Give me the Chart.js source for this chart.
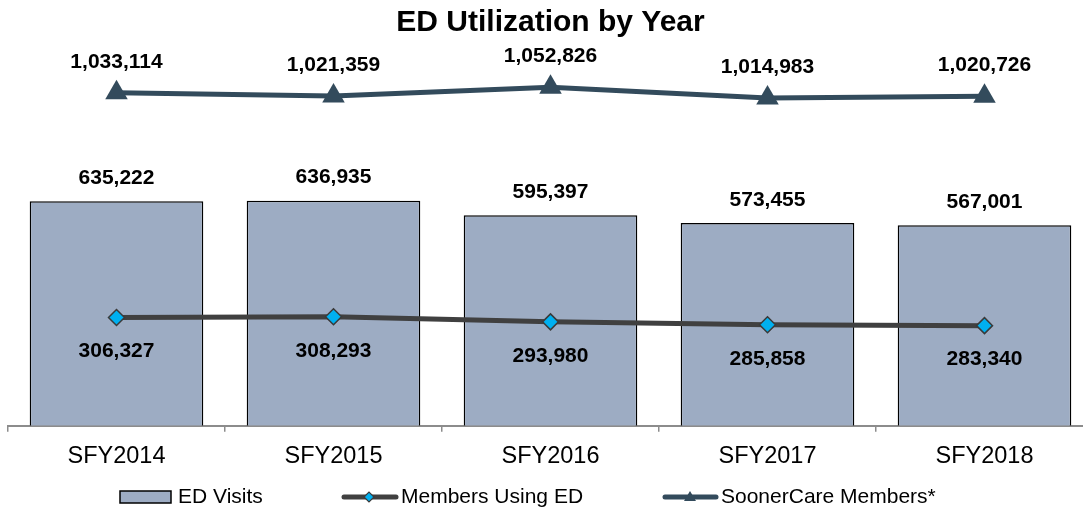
<!DOCTYPE html>
<html>
<head>
<meta charset="utf-8">
<script src="https://cdn.jsdelivr.net/npm/chart.js@4/dist/chart.umd.min.js"></script>
<style>
html,body{margin:0;padding:0;overflow:hidden;background:#fff;}
#wrap{width:1111px;height:510px;margin-left:-5px;}
</style>
</head>
<body>
<div id="wrap"><canvas id="ed"></canvas></div>
<script>
var years=['SFY2014','SFY2015','SFY2016','SFY2017','SFY2018'];
var edVisits=[635222,636935,595397,573455,567001];
var membersUsingEd=[306327,308293,293980,285858,283340];
var soonerCareMembers=[1033114,1021359,1052826,1014983,1020726];

var barFill='#9dacc3';
var memberLine='#404040';
var soonerLine='#334b5c';
var fontFam='"Liberation Sans", Arial, sans-serif';

// number labels next to every bar / point
var valueLabels={
  id:'valueLabels',
  afterDatasetsDraw(chart){
    let ctx=chart.ctx;
    ctx.save();
    ctx.font='bold 21px '+fontFam;
    ctx.fillStyle='#000';
    ctx.textAlign='center';
    ctx.textBaseline='middle';
    chart.data.datasets.forEach((ds,i)=>{
      let meta=chart.getDatasetMeta(i);
      meta.data.forEach((el,j)=>{
        ctx.fillText(ds.data[j].toLocaleString('en-US'), el.x, el.y+ds.labelShift);
      });
    });
    ctx.restore();
  }
};

// legend row at the bottom, drawn by hand (page x = canvas x - 5)
var legendRow={
  id:'legendRow',
  afterDraw(chart){
    let ctx=chart.ctx, y=497;
    ctx.save();
    ctx.translate(5,0);
    ctx.fillStyle=barFill; ctx.strokeStyle='#000'; ctx.lineWidth=1.5;
    ctx.fillRect(120,491,51,12); ctx.strokeRect(120,491,51,12);

    ctx.lineCap='round'; ctx.lineWidth=5;
    ctx.strokeStyle=memberLine;
    ctx.beginPath(); ctx.moveTo(344,y); ctx.lineTo(396,y); ctx.stroke();
    ctx.fillStyle='#00b0f0'; ctx.lineWidth=1.2; ctx.strokeStyle='#3a3a3a';
    ctx.beginPath(); ctx.moveTo(364,y); ctx.lineTo(369,y-5); ctx.lineTo(374,y); ctx.lineTo(369,y+5); ctx.closePath();
    ctx.fill(); ctx.stroke();

    ctx.lineWidth=5; ctx.strokeStyle=soonerLine;
    ctx.beginPath(); ctx.moveTo(665,y); ctx.lineTo(716,y); ctx.stroke();
    ctx.fillStyle=soonerLine;
    ctx.beginPath(); ctx.moveTo(684,y+4); ctx.lineTo(690,y-6); ctx.lineTo(696,y+4); ctx.closePath(); ctx.fill();

    ctx.fillStyle='#000';
    ctx.font='21px '+fontFam;
    ctx.textBaseline='alphabetic';
    ctx.textAlign='left';
    ctx.fillText('ED Visits',178,503);
    ctx.fillText('Members Using ED',401,503);
    ctx.fillText('SoonerCare Members*',721,503);
    ctx.restore();
  }
};

new Chart(document.getElementById('ed'),{
  type:'bar',
  data:{
    labels:years,
    datasets:[
      {
        type:'line',
        label:'SoonerCare Members*',
        data:soonerCareMembers,
        yAxisID:'y2',
        borderColor:soonerLine,
        borderWidth:5,
        pointStyle:'triangle',
        pointRadius:13,
        pointBackgroundColor:soonerLine,
        pointBorderColor:soonerLine,
        pointBorderWidth:0,
        tension:0,
        order:1,
        labelShift:-31
      },
      {
        type:'line',
        label:'Members Using ED',
        data:membersUsingEd,
        yAxisID:'y',
        borderColor:memberLine,
        borderWidth:5,
        pointStyle:'rectRot',
        pointRadius:8,
        pointBackgroundColor:'#00b0f0',
        pointBorderColor:'#3a3a3a',
        pointBorderWidth:1.5,
        tension:0,
        order:2,
        labelShift:34
      },
      {
        label:'ED Visits',
        data:edVisits,
        yAxisID:'y',
        backgroundColor:barFill,
        borderColor:'#000',
        borderWidth:{top:1.5,left:1.5,right:1.5,bottom:0},
        borderSkipped:false,
        categoryPercentage:1,
        barPercentage:0.8,
        order:3,
        labelShift:-23
      }
    ]
  },
  options:{
    responsive:true,
    maintainAspectRatio:false,
    animation:false,
    layout:{padding:{left:0,right:0,top:0,bottom:28}},
    plugins:{
      legend:{display:false},
      tooltip:{enabled:false},
      title:{
        display:true,
        text:'ED Utilization by Year',
        color:'#000',
        font:{family:fontFam,size:30,weight:'bold'},
        padding:{top:5,bottom:9}
      }
    },
    scales:{
      x:{
        grid:{display:true,drawOnChartArea:false,drawTicks:true,tickLength:6,color:'#8c8c8c',lineWidth:1.5},
        border:{display:true,color:'#8c8c8c',width:2},
        ticks:{color:'#000',padding:11,font:{family:fontFam,size:23.5}}
      },
      y:{display:false,min:0,max:1063000},
      y2:{display:false,position:'right',min:-163000,max:1187000}
    }
  },
  plugins:[valueLabels,legendRow]
});
</script>
</body>
</html>
